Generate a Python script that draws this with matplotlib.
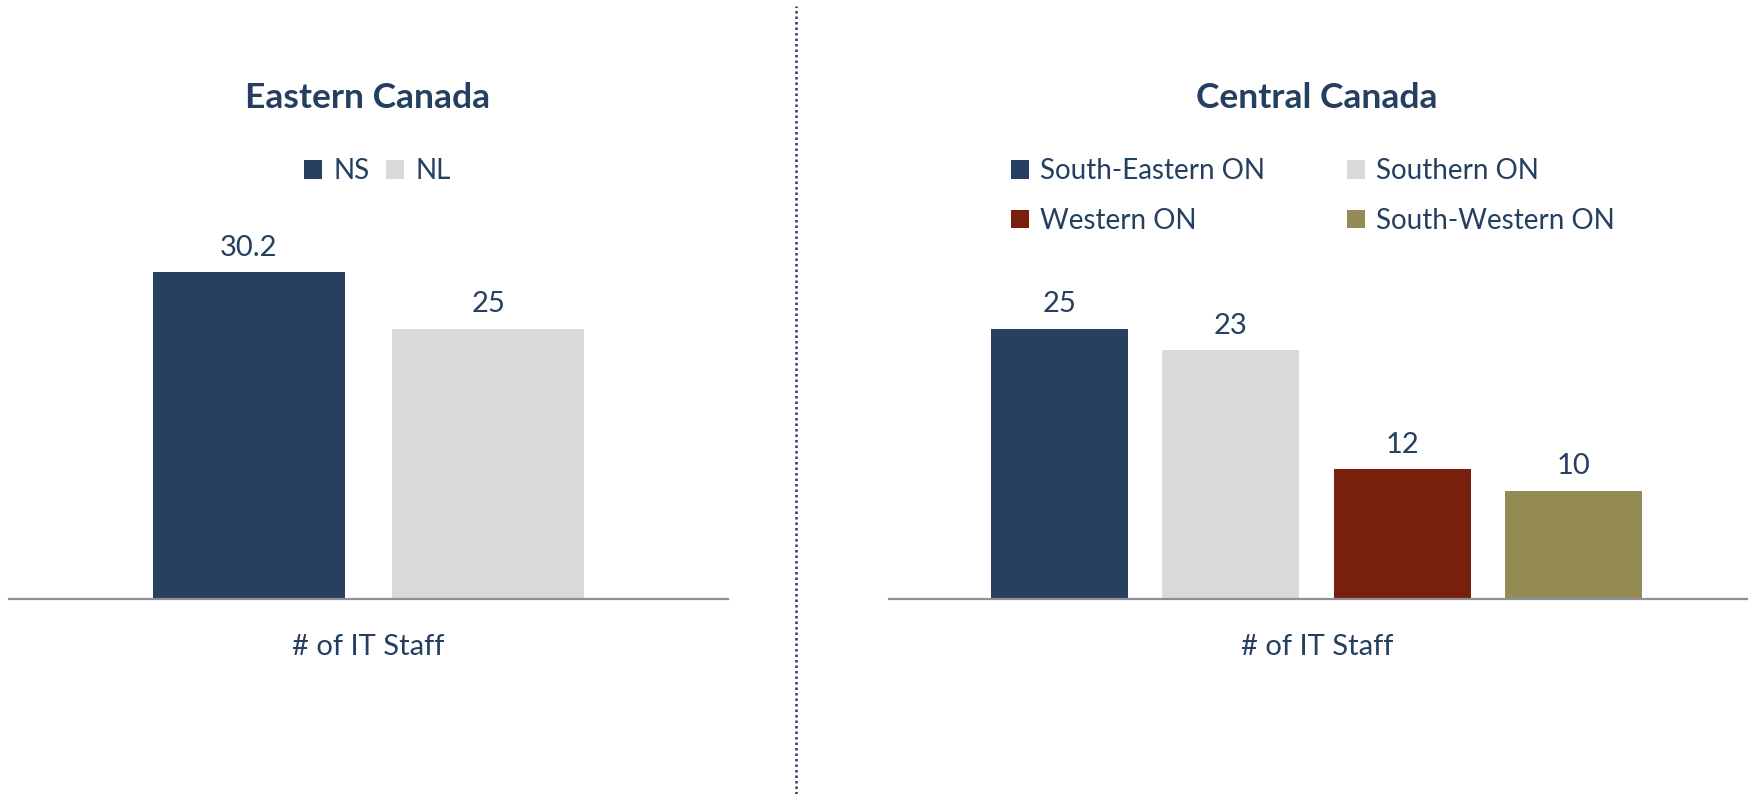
import matplotlib
matplotlib.use("Agg")
import matplotlib.pyplot as plt
from matplotlib.lines import Line2D

plt.rcParams['font.family'] = ['Lato', 'DejaVu Sans']

# ---- data ----
east_title = "Eastern Canada"
east_labels = ["NS", "NL"]
east_values = [30.2, 25]
east_colors = ["#27405F", "#D9D9D9"]

central_title = "Central Canada"
central_labels = ["South-Eastern ON", "Southern ON", "Western ON", "South-Western ON"]
central_values = [25, 23, 12, 10]
central_colors = ["#27405F", "#D9D9D9", "#79200D", "#948A54"]

xlabel = "# of IT Staff"

TEXT = "#243F60"
AXIS = "#8C9099"

W, H = 1748, 794
fig = plt.figure(figsize=(W / 100, H / 100), dpi=100)

base_y = 598.6
ppu = 10.8
ymax = 40
ax_h = ppu * ymax


def fx(px):
    return px / W


def fy(py):
    return (H - py) / H


def make_panel(x0, x1, xlim, labels, values, colors, title, title_x,
               leg_order, leg_anchor, colspacing):
    ax = fig.add_axes([fx(x0), fy(base_y), fx(x1 - x0), ax_h / H])
    xs = list(range(len(values)))
    bars = ax.bar(xs, values, width=0.8, color=colors, zorder=2)
    ax.set_xlim(*xlim)
    ax.set_ylim(0, ymax)
    for s in ["top", "right", "left"]:
        ax.spines[s].set_visible(False)
    ax.spines["bottom"].set_color(AXIS)
    ax.spines["bottom"].set_linewidth(1.6)
    ax.set_xticks([])
    ax.set_yticks([])
    ax.patch.set_alpha(0)
    for x, v in zip(xs, values):
        ax.annotate(f"{v:g}", (x, v), xytext=(0, 8), textcoords="offset points",
                    ha="center", va="bottom", fontsize=21, color=TEXT)
    fig.text(fx(title_x), fy(98), title, ha="center", va="center",
             fontsize=25.5, fontweight="bold", color=TEXT)
    fig.text(fx(title_x), fy(647), xlabel, ha="center", va="center",
             fontsize=21, color=TEXT)
    handles = [bars[i] for i in leg_order]
    names = [labels[i] for i in leg_order]
    ax.legend(handles=handles, labels=names, ncol=2, loc="upper left",
              bbox_to_anchor=leg_anchor, bbox_transform=fig.transFigure,
              frameon=False, fontsize=20, labelcolor=TEXT,
              handlelength=0.65, handleheight=0.65, handletextpad=0.4,
              columnspacing=colspacing, labelspacing=0.85, borderpad=0,
              borderaxespad=0)
    return ax


make_panel(9, 728, (-1.0, 2.0), east_labels, east_values, east_colors,
           east_title, 368, [0, 1], (fx(304), fy(158)), 0.6)
make_panel(888.5, 1748, (-1.0, 4.02), central_labels, central_values, central_colors,
           central_title, 1317, [0, 2, 1, 3], (fx(1011), fy(158)), 2.95)

fig.add_artist(Line2D([fx(796), fx(796)], [0, fy(6)], transform=fig.transFigure,
                      color="#27405F", linestyle=(0, (1, 1.2)), linewidth=1.8))

fig.savefig("out.png", dpi=100, facecolor="white")
